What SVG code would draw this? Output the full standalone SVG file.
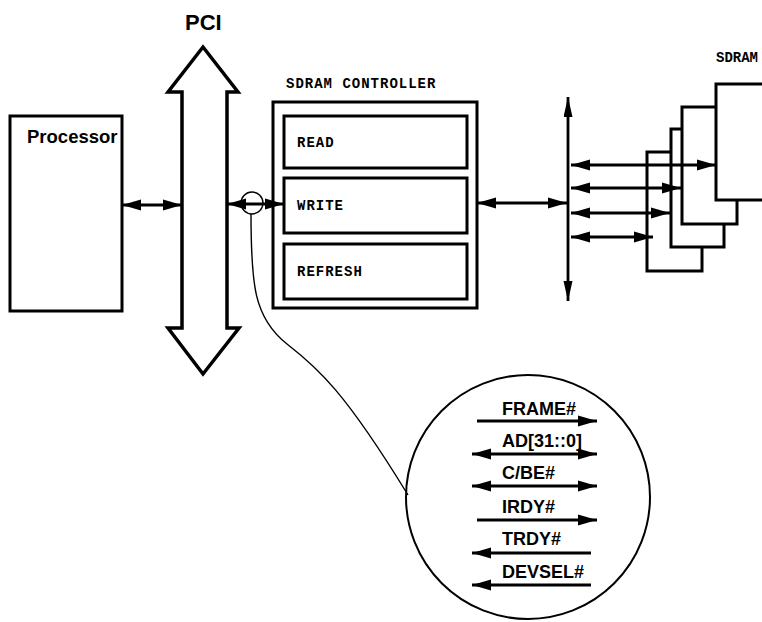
<svg xmlns="http://www.w3.org/2000/svg" width="762" height="622" viewBox="0 0 762 622">
<style>
.box{fill:#fff;stroke:#000;stroke-width:3}
.ln{fill:none;stroke:#000;stroke-width:2.8}
.thin{fill:none;stroke:#000;stroke-width:1.4}
.sans{font-family:"Liberation Sans",Arial,sans-serif;font-weight:bold;fill:#000}
.mono{font-family:"Liberation Mono","Courier New",monospace;font-weight:bold;font-size:14px;fill:#000;letter-spacing:1px}
.sig{font-family:"Liberation Sans",Arial,sans-serif;font-weight:bold;font-size:18px;fill:#000}
</style>
<defs>
<marker id="ah" markerUnits="userSpaceOnUse" markerWidth="22" markerHeight="14" refX="19" refY="6" orient="auto-start-reverse">
<path d="M0,0.5 L19,6 L0,11.5 z" fill="#000"/>
</marker>
<marker id="ahn" markerUnits="userSpaceOnUse" markerWidth="22" markerHeight="10" refX="20" refY="4.5" orient="auto-start-reverse">
<path d="M0,0 L20,4.5 L0,9 z" fill="#000"/>
</marker>
</defs>

<g id="pci">
<polygon points="203,47 238,92 227,92 227,328 239,328 203,374 168,328 182,328 182,92 168,92" fill="#fff" stroke="#000" stroke-width="3.5" stroke-linejoin="miter"/>
<text class="sans" x="185" y="30" font-size="22">PCI</text>
</g>

<g id="processor">
<rect class="box" x="10" y="116" width="112" height="195"/>
<text class="sans" x="27" y="143" font-size="18.5">Processor</text>
</g>

<g id="controller">
<text class="mono" x="286" y="88">SDRAM CONTROLLER</text>
<rect class="box" x="273" y="102" width="204" height="206"/>
<g id="read">
<rect class="box" x="284" y="116" width="183" height="52"/>
<text class="mono" x="297" y="147">READ</text>
</g>
<g id="write">
<rect class="box" x="284" y="178" width="183" height="55"/>
<text class="mono" x="297" y="210">WRITE</text>
</g>
<g id="refresh">
<rect class="box" x="284" y="244" width="183" height="55"/>
<text class="mono" x="297" y="276">REFRESH</text>
</g>
</g>

<g id="sdram">
<text class="mono" x="716" y="62" style="letter-spacing:0">SDRAM</text>
<rect class="box" x="647" y="152" width="55" height="119"/>
<rect class="box" x="671" y="129" width="53" height="118"/>
<rect class="box" x="682" y="107" width="55" height="117"/>
<rect class="box" x="716" y="84" width="60" height="116"/>
</g>

<g id="zoom">
<circle cx="528" cy="497" r="122" fill="#fff" stroke="#000" stroke-width="2"/>
<text class="sig" x="502" y="415">FRAME#</text>
<text class="sig" x="502" y="447">AD[31::0]</text>
<text class="sig" x="502" y="479">C/BE#</text>
<text class="sig" x="502" y="513">IRDY#</text>
<text class="sig" x="502" y="545">TRDY#</text>
<text class="sig" x="502" y="578">DEVSEL#</text>
</g>

<g id="connectors">
<line class="ln" x1="122" y1="205" x2="182" y2="205" marker-start="url(#ah)" marker-end="url(#ah)"/>
<line class="ln" x1="227" y1="204" x2="284" y2="204" marker-start="url(#ah)" marker-end="url(#ah)"/>
<circle cx="252" cy="203" r="11" class="thin" stroke-width="1.6"/>
<path class="thin" d="M251,214 C251,285 254,318 287,344 C318,368 345,392 408,495"/>
<line class="ln" x1="477" y1="203" x2="567" y2="203" marker-start="url(#ah)" marker-end="url(#ah)"/>
<line class="ln" x1="568" y1="97" x2="568" y2="301" marker-start="url(#ahn)" marker-end="url(#ahn)"/>
<line class="ln" x1="571" y1="165" x2="716" y2="165" marker-start="url(#ah)" marker-end="url(#ah)"/>
<line class="ln" x1="571" y1="188" x2="681" y2="188" marker-start="url(#ah)" marker-end="url(#ah)"/>
<line class="ln" x1="571" y1="213" x2="670" y2="213" marker-start="url(#ah)" marker-end="url(#ah)"/>
<line class="ln" x1="571" y1="237" x2="653" y2="237" marker-start="url(#ah)" marker-end="url(#ah)"/>
<line class="ln" x1="477" y1="421" x2="597" y2="421" marker-end="url(#ah)"/>
<line class="ln" x1="472" y1="454" x2="597" y2="454" marker-start="url(#ah)" marker-end="url(#ah)"/>
<line class="ln" x1="472" y1="486" x2="597" y2="486" marker-start="url(#ah)" marker-end="url(#ah)"/>
<line class="ln" x1="477" y1="520" x2="597" y2="520" marker-end="url(#ah)"/>
<line class="ln" x1="472" y1="553" x2="591" y2="553" marker-start="url(#ah)"/>
<line class="ln" x1="472" y1="585" x2="591" y2="585" marker-start="url(#ah)"/>
</g>
</svg>
